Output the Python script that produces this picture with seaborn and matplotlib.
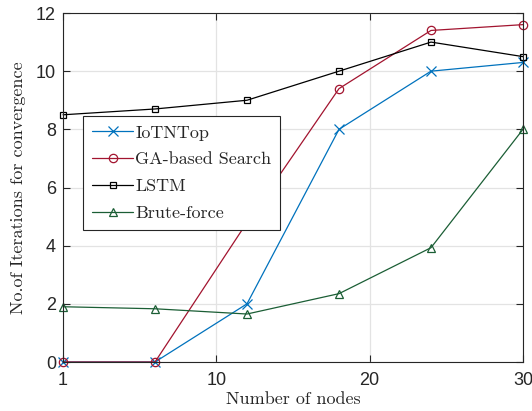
import numpy as np
import pandas as pd
import matplotlib
matplotlib.use("Agg")
import matplotlib.pyplot as plt
import seaborn as sns

nodes = [0, 6, 12, 18, 24, 30]
iotntop = [0, 0, 2.0, 8.0, 10.0, 10.3]
ga_search = [0, 0, 4.8, 9.4, 11.4, 11.6]
lstm = [8.5, 8.7, 9.0, 10.0, 11.0, 10.5]
brute = [1.9, 1.83, 1.65, 2.35, 3.93, 8.0]
series_names = ["IoTNTop", "GA-based Search", "LSTM", "Brute-force"]
x_ticks = [0, 10, 20, 30]
x_tick_labels = ["1", "10", "20", "30"]
y_ticks = [0, 2, 4, 6, 8, 10, 12]

sns.set_style("white")
plt.rcParams["axes.unicode_minus"] = False

colors = {"IoTNTop": "#0072BD", "GA-based Search": "#A2142F",
          "LSTM": "#000000", "Brute-force": "#1B5E35"}
markers = {"IoTNTop": "x", "GA-based Search": "o",
           "LSTM": "s", "Brute-force": "^"}
msizes = {"IoTNTop": 7, "GA-based Search": 6, "LSTM": 5, "Brute-force": 6}

fig = plt.figure(figsize=(5.32, 4.11), dpi=100)
ax = fig.add_axes([63/532, 1-362/411, 460/532, 349/411])

for name, vals in zip(series_names, [iotntop, ga_search, lstm, brute]):
    d = pd.DataFrame({"nodes": nodes, "iters": vals})
    sns.lineplot(data=d, x="nodes", y="iters", ax=ax, color=colors[name],
                 marker=markers[name], markersize=msizes[name],
                 markerfacecolor="none", markeredgecolor=colors[name],
                 markeredgewidth=0.9, linewidth=0.9, label=name,
                 clip_on=False)

ax.set_xlim(0, 30)
ax.set_ylim(0, 12)
ax.set_xticks(x_ticks)
ax.set_xticklabels(x_tick_labels)
ax.set_yticks(y_ticks)
ax.grid(True, color="#e3e3e3", linewidth=0.9)
ax.set_axisbelow(True)
for s in ax.spines.values():
    s.set_color("#262626")
    s.set_linewidth(0.8)
    s.set_visible(True)
ax.tick_params(direction="in", length=5, width=0.8, color="#262626",
               labelsize=13, labelcolor="#262626", top=True, right=True,
               bottom=True, left=True, pad=5)
ax.tick_params(axis="x", pad=7)
for lab in ax.get_xticklabels() + ax.get_yticklabels():
    lab.set_fontfamily(["Liberation Sans", "DejaVu Sans"])

ax.set_xlabel("Number of nodes", fontsize=13, family="cmr10", color="#262626", labelpad=2)
ax.set_ylabel("No.of Iterations for convergence", fontsize=13, family="cmr10",
              color="#262626", labelpad=7)

leg = ax.legend(loc="upper left", bbox_to_anchor=(0.043, 0.705),
                prop={"family": "cmr10", "size": 13}, frameon=True,
                fancybox=False, edgecolor="#262626", borderpad=0.5,
                labelspacing=0.62, handlelength=2.3, handletextpad=0.1,
                borderaxespad=0)
leg.get_frame().set_linewidth(0.8)
leg.get_frame().set_alpha(1)
leg.set_zorder(10)

fig.savefig("out.png", dpi=100)
